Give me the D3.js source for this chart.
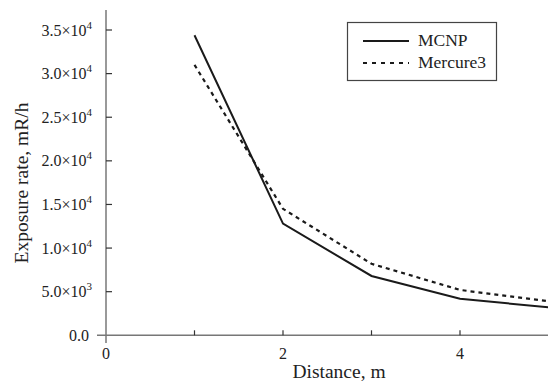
<!DOCTYPE html>
<html>
<head>
<meta charset="utf-8">
<script src="https://cdn.jsdelivr.net/npm/d3@7"></script>
<style>
  body { margin: 0; background: #fff; }
  text { font-family: "Liberation Serif", "Times New Roman", serif; fill: #222; }
</style>
</head>
<body>
<div id="chart"></div>
<script>
// data
const distance = [1, 2, 3, 4, 5];
const mcnp = [34400, 12800, 6800, 4200, 3200];
const mercure3 = [31000, 14500, 8200, 5200, 3900];
const yTicks = [0, 5000, 10000, 15000, 20000, 25000, 30000, 35000];
const xTicks = [0, 1, 2, 3, 4];
const xLabelTicks = [0, 2, 4];

const W = 548, H = 385;
const svg = d3.select('#chart').append('svg')
  .attr('width', W)
  .attr('height', H);

const x = d3.scaleLinear().domain([0, 5]).range([106, 548.5]);
const y = d3.scaleLinear().domain([0, 35000]).range([335.3, 30]);
const axisColor = '#777';

// axes lines (they cross a bit past the origin)
svg.append('line')
  .attr('x1', x(0)).attr('x2', x(0))
  .attr('y1', 10).attr('y2', 343)
  .attr('stroke', axisColor).attr('stroke-width', 1.5);
svg.append('line')
  .attr('x1', 97).attr('x2', W)
  .attr('y1', y(0)).attr('y2', y(0))
  .attr('stroke', axisColor).attr('stroke-width', 1.5);

// y ticks point inward
svg.selectAll('.ytick')
  .data(yTicks.filter(d => d > 0))
  .enter().append('line')
  .attr('x1', x(0)).attr('x2', x(0) + 6)
  .attr('y1', d => y(d)).attr('y2', d => y(d))
  .attr('stroke', '#333').attr('stroke-width', 1.2);

// x ticks point up
svg.selectAll('.xtick')
  .data(xTicks.filter(d => d > 0))
  .enter().append('line')
  .attr('x1', d => x(d)).attr('x2', d => x(d))
  .attr('y1', y(0)).attr('y2', y(0) - 5)
  .attr('stroke', '#333').attr('stroke-width', 1.2);

// y tick labels like 3.5x10^4
const yLab = svg.selectAll('.ylab')
  .data(yTicks)
  .enter().append('text')
  .attr('x', 92)
  .attr('y', d => y(d) + 5.5)
  .attr('text-anchor', 'end')
  .style('font-size', '16px');
yLab.each(function(d) {
  const t = d3.select(this);
  if (d === 0) { t.text('0.0').attr('x', 89); return; }
  const e = Math.floor(Math.log10(d));
  const m = (d / Math.pow(10, e)).toFixed(1);
  t.append('tspan').text(m + '\u00d710');
  t.append('tspan').attr('dy', -7).style('font-size', '11px').text(e);
});

svg.selectAll('.xlab')
  .data(xLabelTicks)
  .enter().append('text')
  .attr('x', d => x(d))
  .attr('y', 359)
  .attr('text-anchor', 'middle')
  .style('font-size', '16px')
  .text(d => d);

// axis titles
svg.append('text')
  .attr('x', 339).attr('y', 378)
  .attr('text-anchor', 'middle')
  .style('font-size', '19.5px')
  .text('Distance, m');
svg.append('text')
  .attr('transform', 'translate(28,183) rotate(-90)')
  .attr('text-anchor', 'middle')
  .style('font-size', '19.5px')
  .text('Exposure rate, mR/h');

// series
const line = d3.line()
  .x((d, i) => x(distance[i]))
  .y(d => y(d));

svg.append('path')
  .datum(mcnp)
  .attr('fill', 'none')
  .attr('stroke', '#1a1a1a')
  .attr('stroke-width', 2)
  .attr('d', line);

svg.append('path')
  .datum(mercure3)
  .attr('fill', 'none')
  .attr('stroke', '#1a1a1a')
  .attr('stroke-width', 2.2)
  .attr('stroke-dasharray', '4,4')
  .attr('d', line);

// legend
const legend = svg.append('g');
legend.append('rect')
  .attr('x', 347.5).attr('y', 22.5)
  .attr('width', 149).attr('height', 58)
  .attr('fill', '#fff')
  .attr('stroke', '#444').attr('stroke-width', 1.2);
const items = [
  { name: 'MCNP', dash: null },
  { name: 'Mercure3', dash: '4,5' }
];
items.forEach((it, i) => {
  const yy = 41 + i * 22;
  legend.append('line')
    .attr('x1', 363).attr('x2', 409)
    .attr('y1', yy).attr('y2', yy)
    .attr('stroke', '#1a1a1a').attr('stroke-width', 2)
    .attr('stroke-dasharray', it.dash);
  legend.append('text')
    .attr('x', 418).attr('y', yy + 5)
    .style('font-size', '17.5px')
    .text(it.name);
});
</script>
</body>
</html>
